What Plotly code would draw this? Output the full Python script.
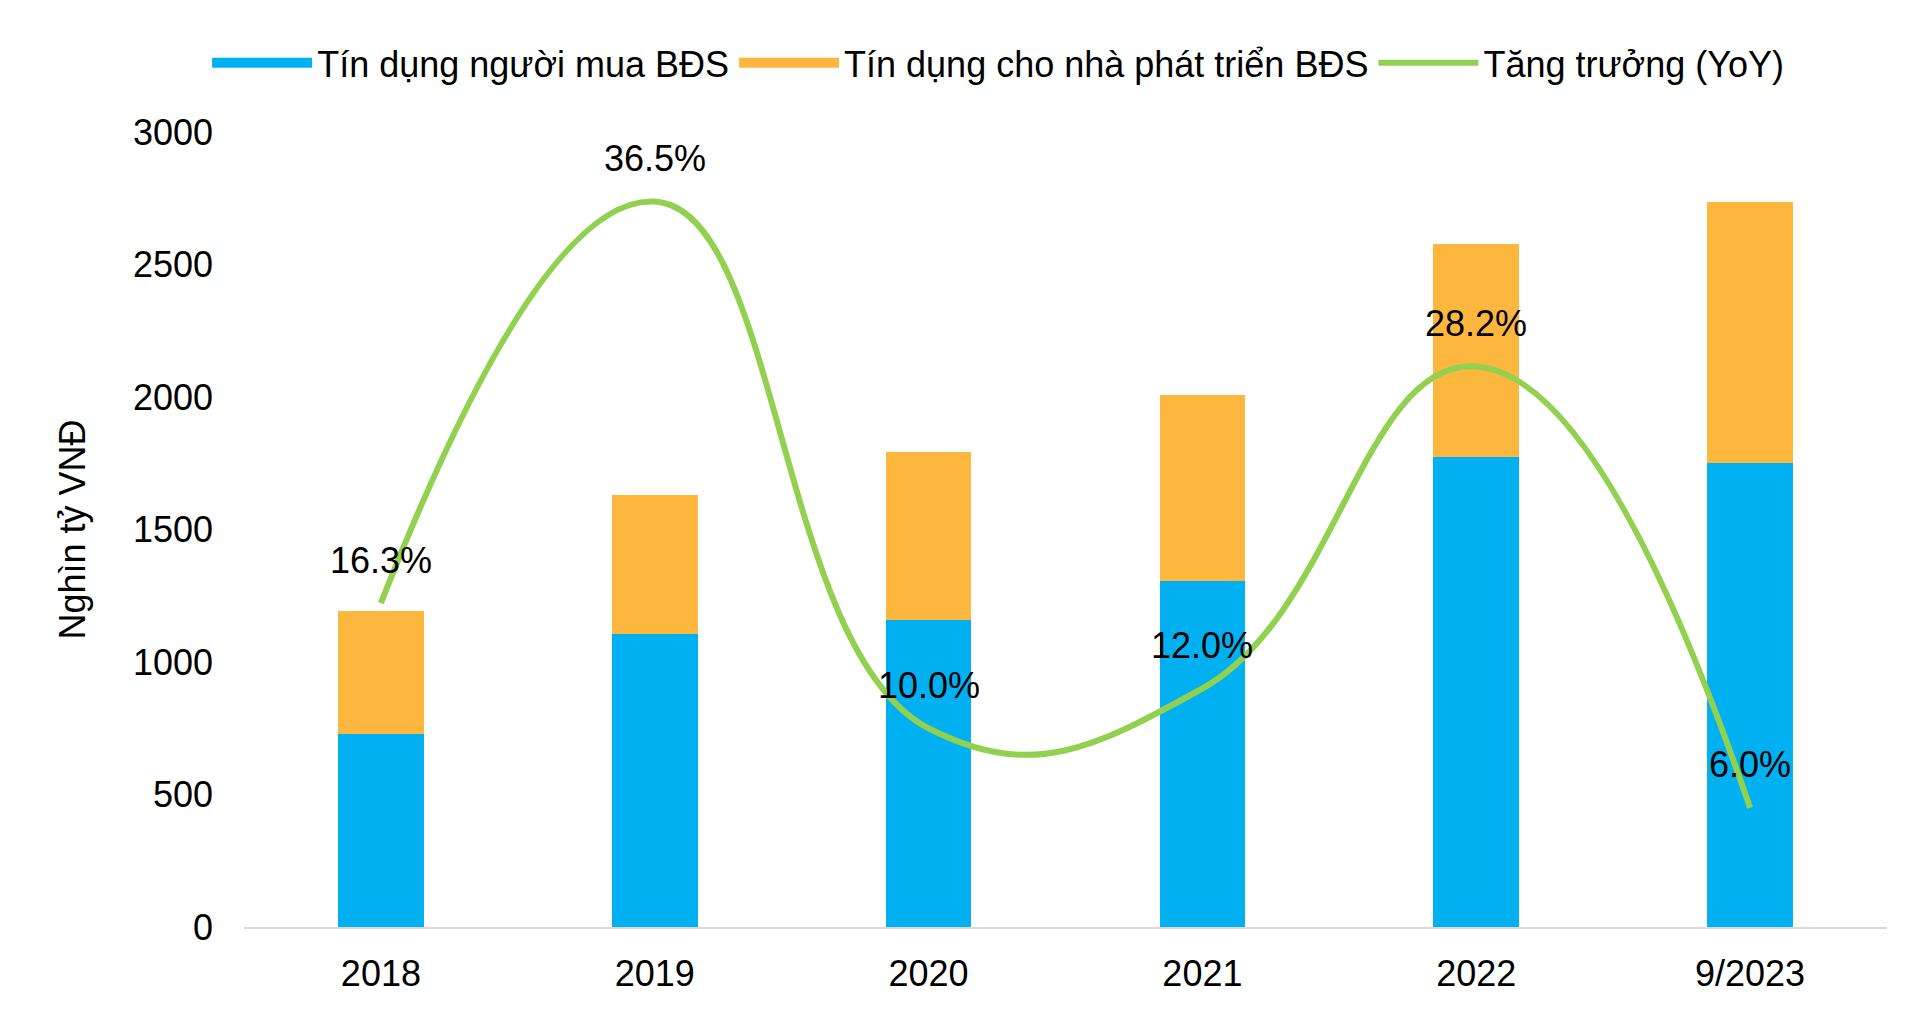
import plotly.graph_objects as go

categories = ["2018", "2019", "2020", "2021", "2022", "9/2023"]
buyer_credit = [727, 1106, 1157, 1306, 1773, 1750]
developer_credit = [467, 524, 635, 703, 806, 986]
growth_yoy = [16.3, 36.5, 10.0, 12.0, 28.2, 6.0]
growth_labels = ["16.3%", "36.5%", "10.0%", "12.0%", "28.2%", "6.0%"]
y_ticks = [0, 500, 1000, 1500, 2000, 2500, 3000]

FONT = "Arial, 'Liberation Sans', sans-serif"
BLUE = "#00B0F0"
ORANGE = "#FDB73E"
GREEN = "#92D050"

fig = go.Figure()
fig.add_trace(go.Bar(x=categories, y=buyer_credit, name="Tín dụng người mua BĐS",
                     marker=dict(color=BLUE, line=dict(width=0)), showlegend=False,
                     legendgroup="a"))
fig.add_trace(go.Bar(x=categories, y=developer_credit, name="Tín dụng cho nhà phát triển BĐS",
                     marker=dict(color=ORANGE, line=dict(width=0)), showlegend=False,
                     legendgroup="b"))
fig.add_trace(go.Scatter(x=categories, y=growth_yoy, name="Tăng trưởng (YoY)", yaxis="y2",
                         mode="lines", line=dict(color=GREEN, width=6, shape="spline", smoothing=1.3),
                         showlegend=False, legendgroup="c"))

# legend entries (swatches)
fig.add_trace(go.Scatter(x=[None], y=[None], mode="lines", name="Tín dụng người mua BĐS",
                         line=dict(color=BLUE, width=21), legendgroup="a"))
fig.add_trace(go.Scatter(x=[None], y=[None], mode="lines", name="Tín dụng cho nhà phát triển BĐS",
                         line=dict(color=ORANGE, width=21), legendgroup="b"))
fig.add_trace(go.Scatter(x=[None], y=[None], mode="lines", name="Tăng trưởng (YoY)",
                         line=dict(color=GREEN, width=6), legendgroup="c"))

for i, (v, t) in enumerate(zip(growth_yoy, growth_labels)):
    fig.add_annotation(x=i, y=v, xref="x", yref="y2", text=t, showarrow=False,
                       yshift=43, font=dict(family=FONT, size=36, color="#000000"))

fig.update_layout(
    width=1920, height=1032,
    paper_bgcolor="white", plot_bgcolor="white",
    barmode="stack", bargap=0.687,
    font=dict(family=FONT, size=36, color="#000000"),
    margin=dict(l=236, r=41, t=124, b=113),
    showlegend=True,
    legend=dict(orientation="h", x=0.459, xanchor="center", y=1.087, yanchor="middle",
                font=dict(family=FONT, size=36, color="#000000"), traceorder="normal",
                itemwidth=100, bgcolor="rgba(0,0,0,0)"),
    xaxis=dict(type="category", range=[-0.5, len(categories) - 0.5], showgrid=False,
               zeroline=False, showline=True, linecolor="#D9D9D9", linewidth=2,
               ticks="", tickfont=dict(family=FONT, size=36), ticklabelstandoff=14),
    yaxis=dict(range=[0, 3000], tickvals=y_ticks, showgrid=False, zeroline=False, showline=False,
               ticks="", tickfont=dict(family=FONT, size=36), ticklabelstandoff=30,
               title=dict(text="Nghìn tỷ VNĐ", font=dict(family=FONT, size=36), standoff=36)),
    yaxis2=dict(range=[0, 40], overlaying="y", side="right", visible=False, showgrid=False,
                zeroline=False),
)

fig.write_html("out.html")
